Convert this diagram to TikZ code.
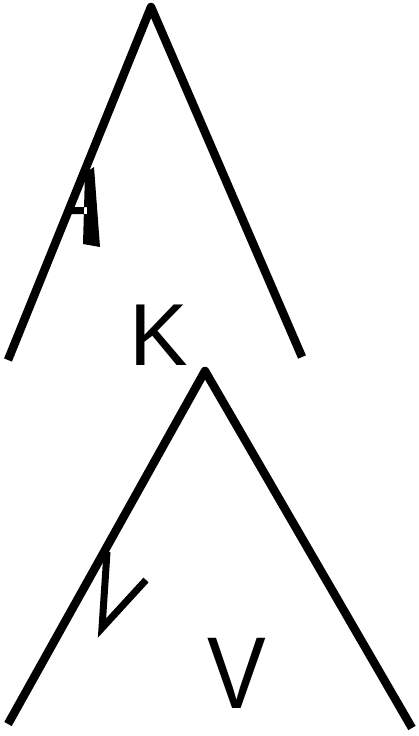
\documentclass[tikz,border=0pt]{standalone}
\usepackage{fontspec}
\setmainfont{Liberation Sans}
\begin{document}
\begin{tikzpicture}[x=1pt,y=-1pt,line width=8.5pt,line join=round]
	\tikzset{glyph/.style={font=\fontsize{88}{88}\selectfont,inner sep=0pt,anchor=base}}
	\useasboundingbox (0,0) rectangle (419,736);
	
	\coordinate (T)  at (151,7);
	\coordinate (TL) at (8,360);
	\coordinate (TR) at (302,357);
	\coordinate (B)  at (205,371);
	\coordinate (BL) at (8,724);
	\coordinate (BR) at (412,728);
	
	\draw (TL)--(T)--(TR);
	\draw (BL)--(B)--(BR);
	
	\fill (85,173)--(94,167)--(100,247)--(83,244)--cycle
		(66,207) rectangle (87,214);
	\draw[line width=7pt,line join=miter] (107,552)--(102,628)--(146,580);
	
	\node[glyph] (K) at (158.6,365) {K};
	\node[glyph,yscale=1.16] (V) at (237,708) {V};
\end{tikzpicture}
\end{document}
